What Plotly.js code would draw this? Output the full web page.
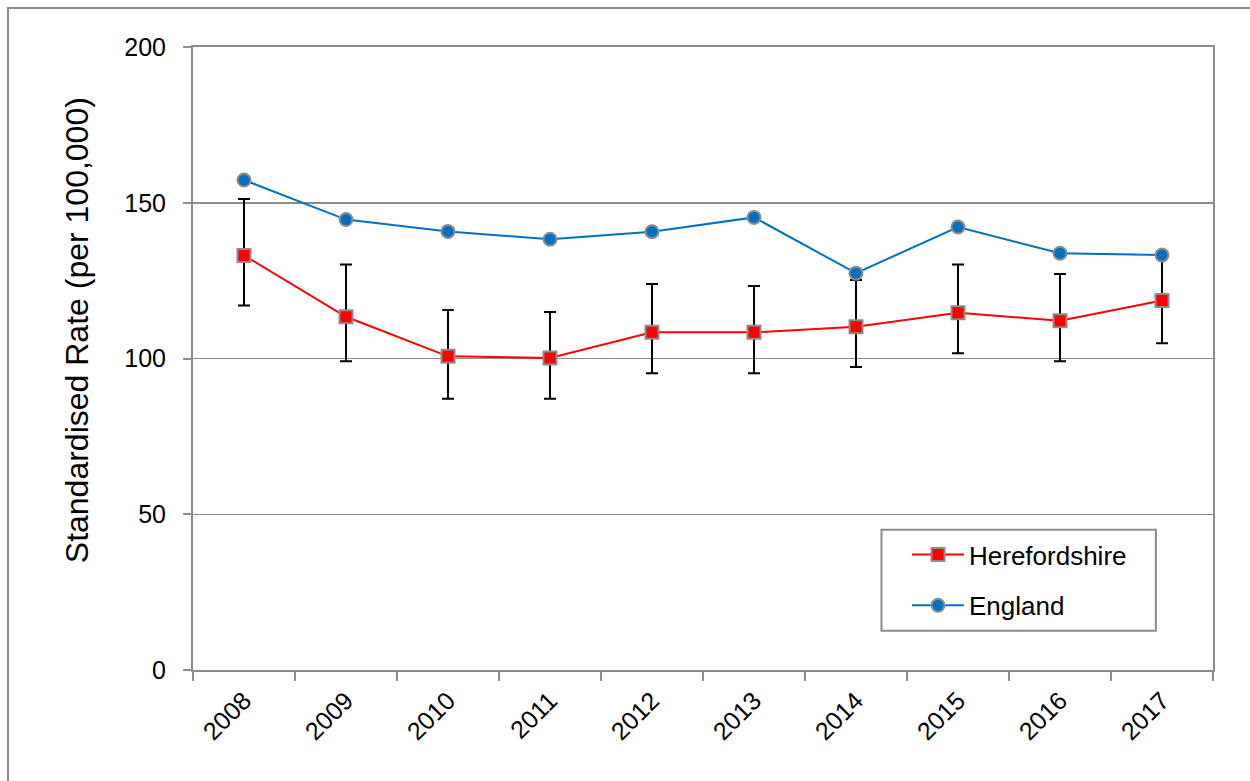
<!DOCTYPE html>
<html>
<head>
<meta charset="utf-8">
<script src="https://cdn.plot.ly/plotly-3.0.1.min.js"></script>
<style>
  html, body { margin: 0; padding: 0; background: #fff; overflow: hidden; }
  #chart { width: 1250px; height: 781px; }
  #frame { position: absolute; left: 7px; top: 7px; width: 1400px; height: 900px;
           border: 2px solid #8c8c8c; pointer-events: none; }
</style>
</head>
<body>
<div id="chart"></div>
<div id="frame"></div>
<script>
// years on the x axis
var years = ["2008", "2009", "2010", "2011", "2012", "2013", "2014", "2015", "2016", "2017"];

// Herefordshire rate and 95% confidence limits
var hereford = [133.1, 113.4, 100.7, 100.2, 108.4, 108.4, 110.2, 114.7, 112.1, 118.6];
var hereford_upper = [151.2, 130.2, 115.6, 114.9, 123.9, 123.3, 125.2, 130.2, 127.1, 133.0];
var hereford_lower = [117.0, 99.1, 87.1, 87.1, 95.3, 95.3, 97.3, 101.7, 99.1, 104.9];

// England rate
var england = [157.3, 144.6, 140.8, 138.3, 140.7, 145.3, 127.4, 142.2, 133.8, 133.2];

var y_ticks = [0, 50, 100, 150, 200];

var err_plus = [];
var err_minus = [];
for (var i = 0; i < hereford.length; i++) {
  err_plus.push(hereford_upper[i] - hereford[i]);
  err_minus.push(hereford[i] - hereford_lower[i]);
}

var grey = "#8c8c8c";
var font_main = "Liberation Sans, Arial, sans-serif";

var trace_hfd = {
  type: "scatter",
  mode: "lines+markers",
  name: "Herefordshire",
  legendgroup: "a",
  x: years,
  y: hereford,
  line: { color: "#ff0000", width: 2 },
  marker: { symbol: "square", size: 13, color: "#ff0000", line: { color: grey, width: 2 } },
  error_y: {
    type: "data",
    symmetric: false,
    array: err_plus,
    arrayminus: err_minus,
    color: "#000000",
    thickness: 2,
    width: 6
  }
};

var trace_eng = {
  type: "scatter",
  mode: "lines+markers",
  name: "England",
  legendgroup: "b",
  x: years,
  y: england,
  line: { color: "#0070c0", width: 2 },
  marker: { symbol: "circle", size: 13, color: "#0070c0", line: { color: grey, width: 2 } }
};

var layout = {
  width: 1250,
  height: 781,
  margin: { l: 193, r: 37, t: 47, b: 111 },
  paper_bgcolor: "rgba(0,0,0,0)",
  plot_bgcolor: "#ffffff",
  font: { family: font_main, size: 25, color: "#000" },
  showlegend: true,
  legend: {
    x: 0.70,
    y: 0.223,
    xanchor: "left",
    yanchor: "top",
    bgcolor: "rgba(0,0,0,0)",
    borderwidth: 0,
    font: { family: font_main, size: 26, color: "#000" },
    traceorder: "grouped",
    tracegroupgap: 14,
    itemwidth: 52
  },
  xaxis: {
    type: "category",
    range: [-0.5, 9.5],
    tickson: "boundaries",
    ticks: "outside",
    ticklen: 9,
    tickwidth: 2,
    tickcolor: grey,
    tickangle: -45,
    showline: true,
    linecolor: grey,
    linewidth: 2,
    mirror: true,
    showgrid: false,
    zeroline: false,
    fixedrange: true,
    ticklabelstandoff: 4,
    tickfont: { family: font_main, size: 25 }
  },
  yaxis: {
    range: [0, 200],
    tickvals: y_ticks,
    ticks: "outside",
    ticklen: 8,
    tickwidth: 2,
    tickcolor: grey,
    showline: true,
    linecolor: grey,
    linewidth: 2,
    mirror: true,
    showgrid: true,
    gridcolor: grey,
    gridwidth: 1.5,
    zeroline: false,
    ticklabelstandoff: 12,
    tickfont: { family: font_main, size: 25 }
  },
  shapes: [
    {
      type: "rect", xref: "paper", yref: "paper",
      x0: 0.675, x1: 0.944, y0: 0.063, y1: 0.225,
      line: { color: grey, width: 2 },
      fillcolor: "#ffffff",
      layer: "below"
    }
  ],
  annotations: [
    {
      text: "Standardised Rate (per 100,000)",
      xref: "paper", yref: "paper",
      x: -0.113, y: 0.545,
      xanchor: "center", yanchor: "middle",
      textangle: -90,
      showarrow: false,
      font: { family: font_main, size: 32, color: "#000" }
    }
  ]
};

var config = { displayModeBar: false, staticPlot: true };

Plotly.newPlot("chart", [trace_hfd, trace_eng], layout, config);
</script>
</body>
</html>
